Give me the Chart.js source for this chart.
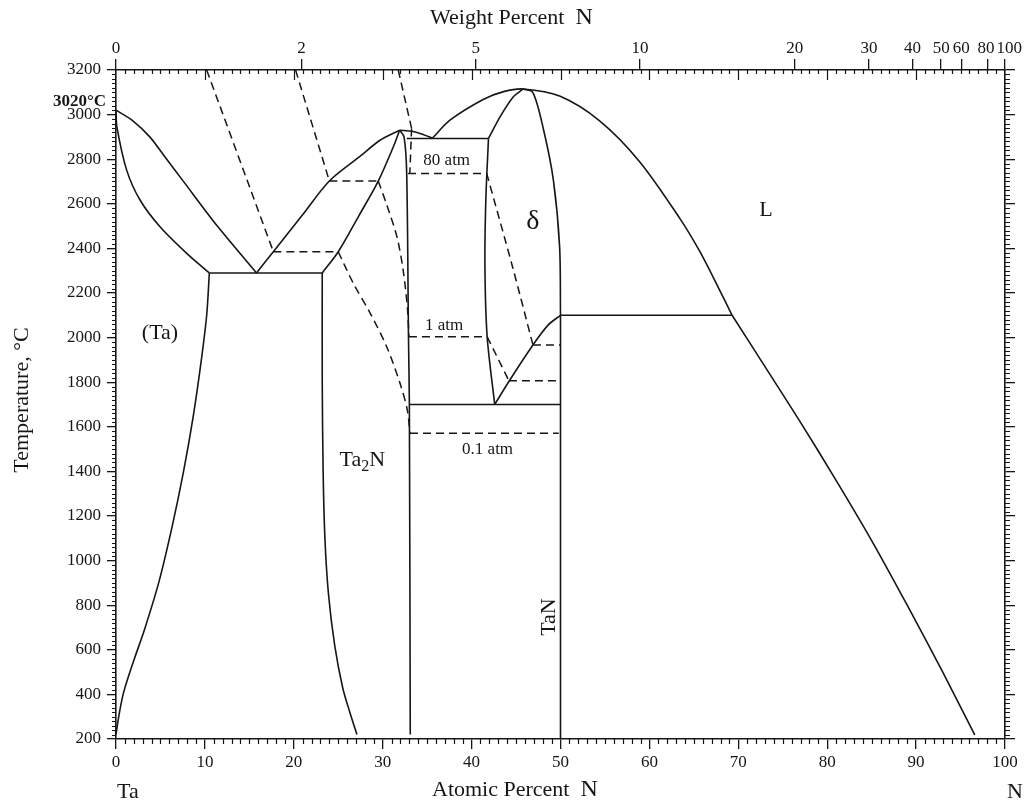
<!DOCTYPE html>
<html>
<head>
<meta charset="utf-8">
<script src="https://cdn.jsdelivr.net/npm/chart.js@4.4.1/dist/chart.umd.min.js"></script>
<style>
  html, body { margin: 0; padding: 0; background: #fff; overflow: hidden; }
  canvas { display: block; }
</style>
</head>
<body>
<canvas id="c" width="1034" height="803"></canvas>
<script>
// Ta–N phase diagram: composition in atomic percent N, temperature in °C.

// Axis ticks
const atTicksStep = 10;
const tempStep = 200;
const wtTicks = [0, 2, 5, 10, 20, 30, 40, 50, 60, 80, 100];

// Ta-rich side: liquidus, solidus, (Ta) solvus, eutectic isotherm
const liqTa    = [[0, 3020], [1.9, 2972], [3.8, 2900], [5.6, 2805], [7.5, 2705], [11.4, 2500], [15.8, 2290]];
const solTa    = [[0, 3020], [0.1, 2945], [1.2, 2751], [2.7, 2617], [4.95, 2497], [7.95, 2378], [10.5, 2290]];
const solvusTa = [[10.5, 2290], [10.2, 2100], [9.6, 1900], [8.7, 1650], [7.6, 1400], [6.3, 1150],
                  [4.8, 900], [3.2, 690], [2.2, 575], [1.4, 480], [0.8, 400], [0.35, 310], [0, 220]];
const eutTa    = [[10.5, 2290], [23.2, 2290]];

// Ta2N field
const liqTa2N   = [[15.8, 2290], [17.7, 2385], [20.9, 2546], [24.0, 2702], [27.4, 2811], [29.7, 2885], [31.9, 2930]];
const solTa2N   = [[23.2, 2290], [25.0, 2385], [27.3, 2545], [29.5, 2702], [31.2, 2856], [31.9, 2930]];
const ta2nLeft  = [[23.2, 2290], [23.2, 1800], [23.3, 1400], [23.5, 1100], [23.9, 850], [24.6, 620],
                   [25.5, 430], [26.3, 320], [27.1, 220]];
const ta2nRight = [[31.9, 2930], [32.4, 2900], [32.7, 2736], [32.9, 2000], [33.0, 1700], [33.1, 220]];

// Liquidus between Ta2N and the delta phase, and on to the N side
const liqMid = [[31.9, 2930], [33.3, 2925], [34.6, 2910], [35.6, 2895]];
const liqBig = [[35.6, 2895], [37.6, 2976], [41.3, 3068], [43.6, 3103], [45.8, 3115], [49.9, 3083],
                [54.4, 2972], [58.9, 2789], [63.4, 2536], [65.7, 2384], [67.9, 2213], [69.3, 2100]];
const liqN   = [[69.3, 2100], [73, 1870], [77, 1620], [81, 1360], [85, 1090], [89, 800], [93, 500], [96.6, 218]];

// Delta phase boundaries and invariant lines
const peritectic   = [[32.7, 2893], [41.9, 2893]];
const deltaLeftUp  = [[41.9, 2893], [43.2, 2990], [44.7, 3080], [45.8, 3115]];
const deltaLeftLow = [[41.9, 2893], [41.6, 2617], [41.5, 2318], [41.75, 2004], [42.6, 1700]];
const deltaRight   = [[45.8, 3115], [46.9, 3099], [48.1, 2931], [49.2, 2706], [49.9, 2407], [50, 2100]];
const deltaLow     = [[42.6, 1700], [44.3, 1810], [46.9, 1967], [48.6, 2056], [50, 2100]];
const iso2100      = [[50, 2100], [69.3, 2100]];
const iso1700      = [[33.0, 1700], [50, 1700]];
const taNLine      = [[50, 2100], [50, 200]];

// Nitrogen isobars (dashed)
const p01Top   = [[10.2, 3200], [17.7, 2385]];
const p01Flat  = [[17.7, 2385], [25.0, 2385]];
const p01Curve = [[25.0, 2385], [26.7, 2243], [28.6, 2109], [30.45, 1959], [31.95, 1795], [32.77, 1675], [33.07, 1571]];
const p01Low   = [[33.07, 1571], [49.8, 1571]];

const p1Top    = [[20.2, 3200], [24.0, 2702]];
const p1Flat   = [[24.0, 2702], [29.5, 2702]];
const p1Curve  = [[29.5, 2702], [30.4, 2602], [31.6, 2452], [32.3, 2303], [32.8, 2124], [32.95, 2004]];
const p1Mid    = [[32.95, 2004], [41.75, 2004]];
const p1Slope  = [[41.75, 2004], [44.2, 1806]];
const p1Low    = [[44.2, 1806], [50, 1806]];

const p80Top   = [[31.75, 3200], [33.25, 2938]];
const p80Edge  = [[33.25, 2938], [33.05, 2736]];
const p80Mid   = [[32.85, 2736], [41.7, 2736]];
const p80Slope = [[41.7, 2736], [44.6, 2318], [46.9, 1967]];
const p80Low   = [[46.9, 1967], [50, 1967]];

// ---------------------------------------------------------------------------

const SERIF = '"Liberation Serif", "Times New Roman", serif';
const INK = '#161616';

function wtToAt(w) {
  const n = w / 14.007, ta = (100 - w) / 180.948;
  return 100 * n / (n + ta);
}

function line(points, opts = {}) {
  return {
    data: points.map(([x, y]) => ({ x, y })),
    showLine: true,
    pointRadius: 0,
    pointHoverRadius: 0,
    borderColor: INK,
    borderWidth: opts.dash ? 1.5 : 1.6,
    borderDash: opts.dash ? [8, 5] : [],
    tension: opts.curve ? 0.3 : 0,
    fill: false,
    xAxisID: 'x',
    yAxisID: 'y'
  };
}

const C = { curve: true };
const D = { dash: true };
const DC = { dash: true, curve: true };

const datasets = [
  line(liqTa, C), line(solTa, C), line(solvusTa, C), line(eutTa),
  line(liqTa2N, C), line(solTa2N, C), line(ta2nLeft, C), line(ta2nRight, C),
  line(liqMid, C), line(liqBig, C), line(liqN, C),
  line(peritectic), line(deltaLeftUp, C), line(deltaLeftLow, C), line(deltaRight, C), line(deltaLow, C),
  line(iso2100), line(iso1700), line(taNLine),
  line(p01Top, D), line(p01Flat, D), line(p01Curve, DC), line(p01Low, D),
  line(p1Top, D), line(p1Flat, D), line(p1Curve, DC), line(p1Mid, D), line(p1Slope, D), line(p1Low, D),
  line(p80Top, D), line(p80Edge, D), line(p80Mid, D), line(p80Slope, DC), line(p80Low, D)
];

// Small ticks: every 1 at.% (bottom outward, top inward, longer every 10 at.% on top),
// every 20 °C on both temperature axes.
const minorTicks = {
  id: 'minorTicks',
  afterDraw(chart) {
    const { ctx, chartArea: a, scales: { x, y } } = chart;
    ctx.save();
    ctx.strokeStyle = INK;
    ctx.lineWidth = 1.2;
    ctx.beginPath();
    for (let v = 1; v < 100; v++) {
      const px = Math.round(x.getPixelForValue(v)) + 0.5;
      if (v % 10) {
        ctx.moveTo(px, a.bottom); ctx.lineTo(px, a.bottom + 5);
        ctx.moveTo(px, a.top); ctx.lineTo(px, a.top + 4);
      } else {
        ctx.moveTo(px, a.top); ctx.lineTo(px, a.top + 10);
      }
    }
    for (let t = 220; t < 3200; t += 20) {
      if (t % 200 === 0) continue;
      const py = Math.round(y.getPixelForValue(t)) + 0.5;
      ctx.moveTo(a.left, py); ctx.lineTo(a.left - 4, py);
      ctx.moveTo(a.right, py); ctx.lineTo(a.right + 5, py);
    }
    ctx.stroke();
    ctx.restore();
  }
};

// Axis titles and phase-field labels
const labels = {
  id: 'labels',
  afterDraw(chart) {
    const { ctx, scales: { x, y } } = chart;
    ctx.save();
    ctx.fillStyle = INK;
    ctx.textBaseline = 'middle';

    const runs = (parts, x0, y0) => {
      let cx = x0;
      for (const [txt, font, dy] of parts) {
        ctx.font = font;
        ctx.textAlign = 'left';
        ctx.fillText(txt, cx, y0 + (dy || 0));
        cx += ctx.measureText(txt).width;
      }
    };
    const at = (txt, font, xv, yv) => {
      ctx.font = font;
      ctx.textAlign = 'center';
      ctx.fillText(txt, x.getPixelForValue(xv), y.getPixelForValue(yv));
    };

    // top and bottom titles
    runs([['Weight Percent  ', `22px ${SERIF}`], ['N', `24px ${SERIF}`]], 430, 18);
    runs([['Atomic Percent  ', `22px ${SERIF}`], ['N', `24px ${SERIF}`]], 432, 790);
    ctx.font = `22px ${SERIF}`;
    ctx.textAlign = 'left';
    ctx.fillText('Ta', 117, 792);
    ctx.fillText('N', 1007, 792);

    // temperature title
    ctx.save();
    ctx.translate(22, 400);
    ctx.rotate(-Math.PI / 2);
    ctx.font = `22px ${SERIF}`;
    ctx.textAlign = 'center';
    ctx.fillText('Temperature, °C', 0, 0);
    ctx.restore();

    // melting point of Ta
    ctx.font = `bold 17px ${SERIF}`;
    ctx.textAlign = 'right';
    ctx.fillText('3020°C', 106, y.getPixelForValue(3020) - 9);

    // phase fields
    at('(Ta)', `22px ${SERIF}`, 4.95, 2020);
    at('L', `22px ${SERIF}`, 73.1, 2572);
    at('δ', `28px ${SERIF}`, 46.9, 2518);

    // Ta2N with subscript
    ctx.font = `22px ${SERIF}`;
    const w1 = ctx.measureText('Ta').width, wN = ctx.measureText('N').width;
    ctx.font = `16px ${SERIF}`;
    const w2 = ctx.measureText('2').width;
    const tx = x.getPixelForValue(27.7) - (w1 + w2 + wN) / 2;
    const ty = y.getPixelForValue(1451);
    runs([['Ta', `22px ${SERIF}`], ['2', `16px ${SERIF}`, 7], ['N', `22px ${SERIF}`]], tx, ty);

    // TaN, reading upward along the line
    ctx.save();
    ctx.translate(x.getPixelForValue(48.7), y.getPixelForValue(747));
    ctx.rotate(-Math.PI / 2);
    ctx.font = `22px ${SERIF}`;
    ctx.textAlign = 'center';
    ctx.fillText('TaN', 0, 0);
    ctx.restore();

    // isobar labels
    at('80 atm', `17px ${SERIF}`, 37.2, 2796);
    at('1 atm', `17px ${SERIF}`, 36.9, 2052);
    at('0.1 atm', `17px ${SERIF}`, 41.8, 1500);

    ctx.restore();
  }
};

const tickFont = { family: SERIF, size: 17 };
const gridBase = { drawOnChartArea: false, color: INK, lineWidth: 1.3 };
const border = { display: true, color: INK, width: 1.6 };

// weight-percent labels; the crowded last pair is nudged apart with spaces
const wtLabel = (w) => (w === 80 ? '80 ' : w === 100 ? '  100' : String(w));

new Chart(document.getElementById('c'), {
  type: 'scatter',
  data: { datasets },
  options: {
    responsive: false,
    animation: false,
    devicePixelRatio: 1,
    layout: { padding: 0 },
    plugins: { legend: { display: false }, tooltip: { enabled: false } },
    events: [],
    scales: {
      x: {
        type: 'linear', position: 'bottom', min: 0, max: 100,
        ticks: { stepSize: atTicksStep, font: tickFont, color: INK, padding: 3, maxRotation: 0, autoSkip: false,
                 callback: v => String(v) },
        grid: { ...gridBase, tickLength: 10 },
        border,
        afterFit(s) { s.height = 64; }
      },
      xTop: {
        type: 'linear', position: 'top', min: 0, max: 100,
        afterBuildTicks(s) { s.ticks = wtTicks.map(w => ({ value: wtToAt(w) })); },
        ticks: {
          font: tickFont, color: INK, padding: 0, autoSkip: false, maxRotation: 0, minRotation: 0,
          callback: (v, i) => wtLabel(wtTicks[i])
        },
        grid: { ...gridBase, tickLength: 11 },
        border,
        afterFit(s) { s.height = 70; }
      },
      y: {
        type: 'linear', position: 'left', min: 200, max: 3200,
        ticks: { stepSize: tempStep, font: tickFont, color: INK, padding: 6, callback: v => String(v) },
        grid: { ...gridBase, tickLength: 9 },
        border,
        afterFit(s) { s.width = 116; }
      },
      yRight: {
        type: 'linear', position: 'right', min: 200, max: 3200,
        ticks: { stepSize: tempStep, display: false },
        grid: { ...gridBase, tickLength: 10 },
        border,
        afterFit(s) { s.width = 29; }
      }
    }
  },
  plugins: [minorTicks, labels]
});
</script>
</body>
</html>
